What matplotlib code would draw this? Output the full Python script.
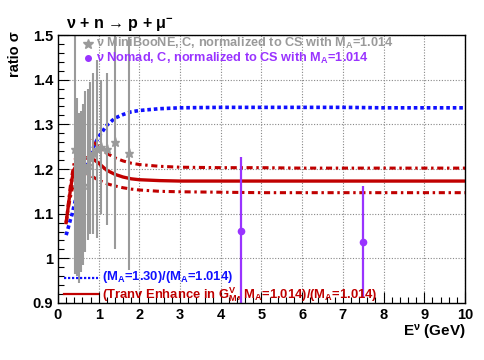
import numpy as np
import matplotlib
matplotlib.use("Agg")
import matplotlib.pyplot as plt

plt.rcParams['font.family'] = ['Liberation Sans', 'DejaVu Sans']
plt.rcParams['font.weight'] = 'bold'
plt.rcParams['mathtext.fontset'] = 'custom'
plt.rcParams['mathtext.rm'] = 'Liberation Sans:bold'
plt.rcParams['mathtext.it'] = 'Liberation Sans:bold'
plt.rcParams['mathtext.bf'] = 'Liberation Sans:bold'

# MiniBooNE points (ratio to CS with MA=1.014)
mb_e = [0.425, 0.475, 0.525, 0.575, 0.625, 0.675, 0.725, 0.775, 0.85, 0.95, 1.05, 1.2, 1.4, 1.75]
mb_val = [1.245, 1.16, 1.135, 1.15, 1.165, 1.195, 1.21, 1.225, 1.235, 1.245, 1.25, 1.245, 1.26, 1.235]
mb_err = [0.28, 0.2, 0.19, 0.18, 0.18, 0.18, 0.17, 0.17, 0.18, 0.2, 0.15, 0.17, 0.24, 0.26]

# NOMAD points
nom_e = [4.5, 7.5]
nom_val = [1.061, 1.036]
nom_err = [0.165, 0.125]

# model curves
curve_e = [0.2, 0.25, 0.3, 0.35, 0.4, 0.5, 0.6, 0.7, 0.8, 0.9, 1.0, 1.2, 1.4,
           1.6, 1.8, 2.0, 2.5, 3.0, 4.0, 5.0, 6.0, 7.0, 8.0, 9.0, 10.0]
ma130 = [1.052, 1.068, 1.085, 1.10, 1.12, 1.155, 1.185, 1.21, 1.232, 1.255, 1.272, 1.298, 1.314,
         1.322, 1.328, 1.331, 1.335, 1.337, 1.338, 1.338, 1.338, 1.338, 1.337, 1.337, 1.337]
tran = [1.08, 1.115, 1.15, 1.18, 1.2, 1.215, 1.222, 1.225, 1.224, 1.22, 1.213, 1.197, 1.188,
        1.182, 1.178, 1.176, 1.174, 1.173, 1.173, 1.173, 1.173, 1.173, 1.173, 1.173, 1.173]
tran_hi = [1.08, 1.12, 1.16, 1.19, 1.215, 1.245, 1.26, 1.265, 1.264, 1.258, 1.25, 1.235, 1.225,
           1.218, 1.213, 1.21, 1.206, 1.204, 1.203, 1.203, 1.202, 1.202, 1.202, 1.202, 1.202]
tran_lo = [1.08, 1.11, 1.135, 1.155, 1.17, 1.185, 1.19, 1.19, 1.186, 1.18, 1.175, 1.167, 1.162,
           1.158, 1.155, 1.153, 1.15, 1.149, 1.148, 1.147, 1.147, 1.147, 1.147, 1.147, 1.147]

gray = '#9a9a9a'
purple = '#9933ff'
blue = '#1010ff'
red = '#c00000'

fig = plt.figure(figsize=(4.85, 3.6), dpi=100)
ax = fig.add_axes([58/485, 57/360, 407/485, 268/360])

ax.grid(True, color='#888888', linestyle=(0, (1, 1.5)), linewidth=0.8)

ax.plot(curve_e, ma130, color=blue, linestyle=(0, (1, 0.8)), linewidth=2.6)
ax.plot(curve_e, tran_hi, color=red, linestyle=(0, (2, 1.2, 0.8, 1.2)), linewidth=2.2)
ax.plot(curve_e, tran_lo, color=red, linestyle=(0, (2, 1.2, 0.8, 1.2)), linewidth=2.2)
ax.plot(curve_e, tran, color=red, linewidth=2.4)

ax.errorbar(mb_e, mb_val, yerr=mb_err, fmt='*', color=gray, ecolor=gray,
            markersize=6.5, elinewidth=1.5, capsize=0)
ax.errorbar(nom_e, nom_val, yerr=nom_err, fmt='o', color=purple, ecolor=purple,
            markersize=4.5, elinewidth=1.6, capsize=0)

ax.set_xlim(0, 10)
ax.set_ylim(0.9, 1.5)
ax.set_xticks(np.arange(0, 11, 1))
ax.set_xticks(np.arange(0, 10.01, 0.2), minor=True)
ax.set_yticks([0.9, 1.0, 1.1, 1.2, 1.3, 1.4, 1.5])
ax.set_yticklabels(['0.9', '1', '1.1', '1.2', '1.3', '1.4', '1.5'])
ax.set_yticks(np.arange(0.9, 1.501, 0.02), minor=True)
ax.tick_params(which='both', direction='in', top=False, right=False, labelsize=10.5)
ax.tick_params(which='major', length=8, width=0.8)
ax.tick_params(which='minor', length=4, width=0.8)
for lab in ax.get_xticklabels() + ax.get_yticklabels():
    lab.set_fontweight('bold')
for s in ax.spines.values():
    s.set_linewidth(1.0)

# inner legends (top)
ax.plot([0.074], [0.966], marker='*', color=gray, markersize=7, transform=ax.transAxes, clip_on=False)
ax.text(0.094, 0.968, 'ν MiniBooNE, C, normalized to CS with M$_A$=1.014', color=gray,
        fontsize=9.2, fontweight='bold', transform=ax.transAxes, va='center', ha='left')
ax.plot([0.074], [0.914], marker='o', color=purple, markersize=4, transform=ax.transAxes, clip_on=False)
ax.text(0.094, 0.912, 'ν Nomad, C, normalized to CS with M$_A$=1.014', color=purple,
        fontsize=9.2, fontweight='bold', transform=ax.transAxes, va='center', ha='left')

# lower legend
ax.plot([0.015, 0.098], [0.093, 0.093], color=blue, linestyle=(0, (1, 0.8)), linewidth=1.6,
        transform=ax.transAxes)
ax.text(0.108, 0.096, '(M$_A$=1.30)/(M$_A$=1.014)', color=blue, fontsize=9.4,
        fontweight='bold', transform=ax.transAxes, va='center', ha='left')
ax.plot([0.015, 0.098], [0.034, 0.034], color=red, linewidth=1.6, transform=ax.transAxes)
ax.text(0.108, 0.030, '(Tranv Enhance in G$_M^V$, M$_A$=1.014)/(M$_A$=1.014)', color=red,
        fontsize=9.4, fontweight='bold', transform=ax.transAxes, va='center', ha='left')

fig.text(66/485, 1 - 25/360, 'ν + n → p + μ$^{-}$', fontsize=11.5, fontweight='bold',
         ha='left', va='center')
fig.text(0.03, 0.85, 'ratio σ', fontsize=10.5, fontweight='bold', rotation=90,
         ha='center', va='center')
fig.text(466/485, 1 - 333/360, 'E$^ν$ (GeV)', fontsize=11, fontweight='bold',
         ha='right', va='center')

fig.savefig('out.png', dpi=100)
